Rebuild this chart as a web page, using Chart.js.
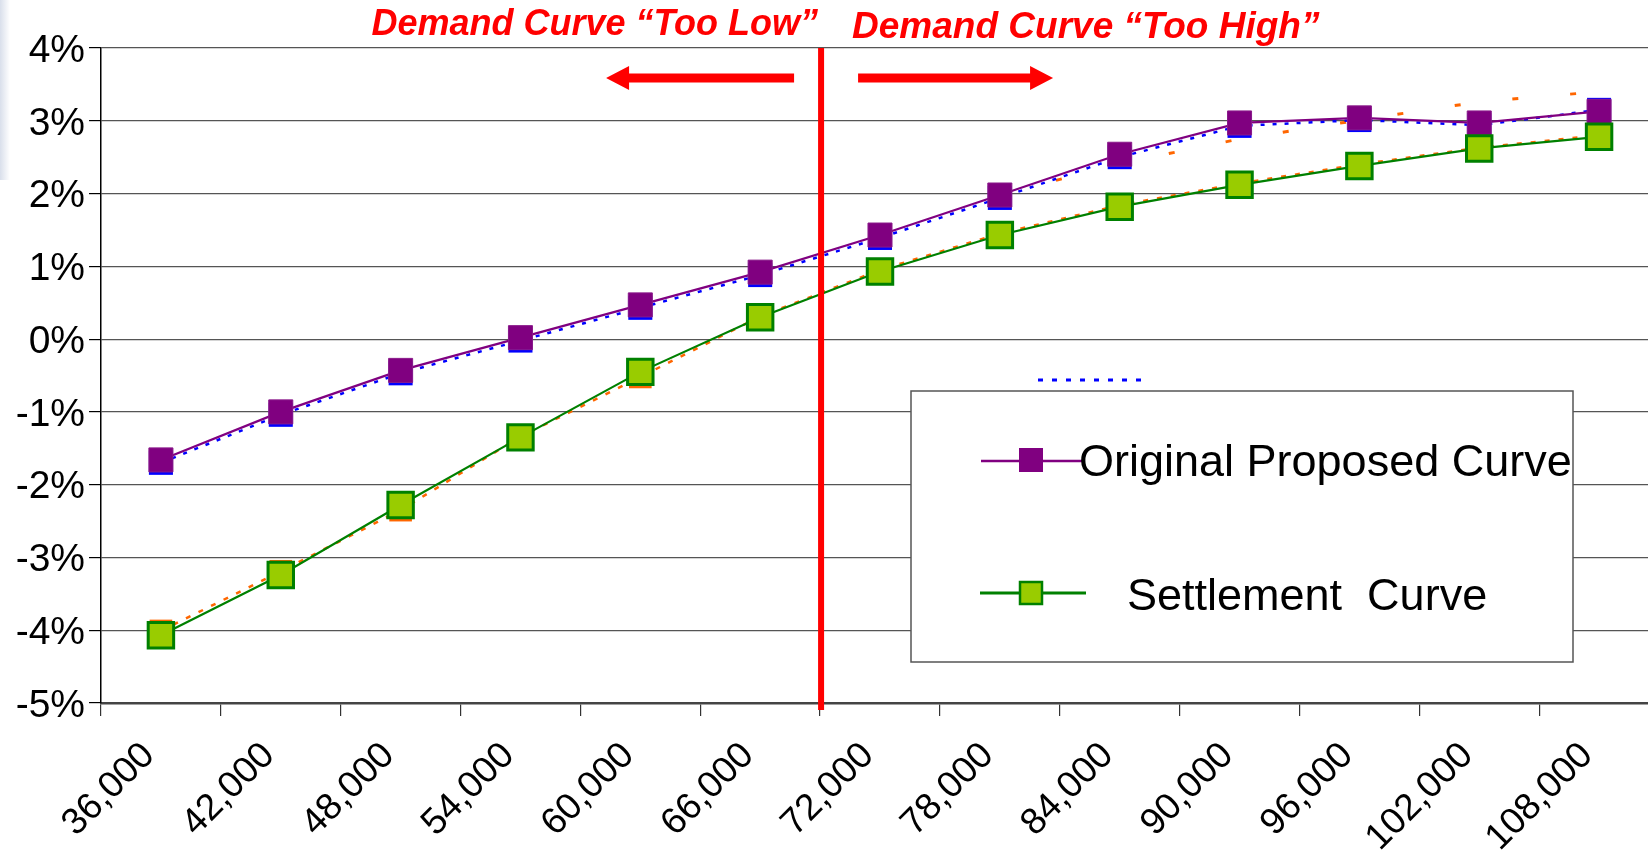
<!DOCTYPE html>
<html lang="en">
<head>
<meta charset="UTF-8">
<title>Demand Curve comparison</title>
<script src="https://cdn.jsdelivr.net/npm/chart.js"></script>
<style>
  html, body { margin: 0; padding: 0; background: #fff; overflow: hidden; }
  body { width: 1648px; height: 850px; position: relative; }
  .edge-shade {
    position: absolute; left: 0; top: 0; width: 10px; height: 180px;
    background: linear-gradient(to right, #d9dfeb, rgba(255,255,255,0));
  }
  .chart-box { position: absolute; left: 0; top: 0; width: 1680px; height: 850px; }
</style>
</head>
<body>
<div class="edge-shade"></div>
<div class="chart-box"><canvas id="demandChart"></canvas></div>

<script>
const categories = ['36,000','42,000','48,000','54,000','60,000','66,000','72,000',
                    '78,000','84,000','90,000','96,000','102,000','108,000'];
// values in percent
const originalCurve    = [-1.66, -1.00, -0.43, 0.02, 0.47, 0.92, 1.43, 1.98, 2.54, 2.97, 3.04, 2.97, 3.13];
const settlementCurve  = [-4.07, -3.24, -2.28, -1.35, -0.45, 0.30, 0.93, 1.43, 1.82, 2.12, 2.38, 2.62, 2.78];
// faint series hiding under the two main ones
const originalShadow   = [-1.70, -1.04, -0.47, -0.02, 0.43, 0.88, 1.39, 1.94, 2.50, 2.93, 3.01, 2.94, 3.15];
const settlementShadow = [-4.01, -3.19, -2.35, -1.34, -0.52, 0.31, 0.95, 1.45, 1.84, 2.14, 2.40, 2.63, 2.80];
const settlementStray  = [null, null, null, null, null, null, null, 1.98, 2.41, 2.75, 3.01, 3.26, 3.40];

const FONT = '"Liberation Sans", Arial, sans-serif';

function drawArrow(ctx, tailX, tipX, y) {
  const dir = tipX > tailX ? 1 : -1;
  const headLen = 23, headHalf = 12, shaftHalf = 4.5;
  const baseX = tipX - dir * headLen;
  ctx.beginPath();
  ctx.moveTo(tailX, y - shaftHalf);
  ctx.lineTo(baseX, y - shaftHalf);
  ctx.lineTo(baseX, y - headHalf);
  ctx.lineTo(tipX, y);
  ctx.lineTo(baseX, y + headHalf);
  ctx.lineTo(baseX, y + shaftHalf);
  ctx.lineTo(tailX, y + shaftHalf);
  ctx.closePath();
  ctx.fill();
}

const demandAnnotations = {
  id: 'demandAnnotations',
  afterDraw(chart) {
    const { ctx, chartArea, scales: { x } } = chart;
    const i = categories.indexOf('66,000');
    const splitX = (x.getPixelForValue(i) + x.getPixelForValue(i + 1)) / 2 + 1;

    ctx.save();
    ctx.fillStyle = '#ff0000';
    ctx.fillRect(splitX - 3, chartArea.top, 6, chartArea.bottom - chartArea.top + 7);
    drawArrow(ctx, splitX - 27, splitX - 215, 78);
    drawArrow(ctx, splitX + 37, splitX + 232, 78);

    ctx.font = 'italic bold 36px ' + FONT;
    ctx.textBaseline = 'middle';
    ctx.textAlign = 'right';
    ctx.fillText('Demand Curve \u201CToo Low\u201D', splitX - 3, 25);
    ctx.textAlign = 'left';
    ctx.font = 'italic bold 37px ' + FONT;
    ctx.fillText('Demand Curve \u201CToo High\u201D', splitX + 31, 28);
    ctx.restore();
  }
};

// legend box drawn by hand, the way the original slide shows it
const boxLegend = {
  id: 'boxLegend',
  afterDraw(chart) {
    const ctx = chart.ctx;
    ctx.save();
    // stray dotted entry peeking above the box
    ctx.strokeStyle = '#0000ff';
    ctx.lineWidth = 3;
    ctx.setLineDash([5, 9]);
    ctx.beginPath(); ctx.moveTo(1038, 380); ctx.lineTo(1145, 380); ctx.stroke();
    ctx.setLineDash([]);

    ctx.fillStyle = '#fff';
    ctx.fillRect(911, 391, 662, 271);
    ctx.strokeStyle = '#555';
    ctx.lineWidth = 1.5;
    ctx.strokeRect(911, 391, 662, 271);

    // original proposed
    ctx.strokeStyle = '#800080';
    ctx.lineWidth = 2.5;
    ctx.beginPath(); ctx.moveTo(981, 461); ctx.lineTo(1085, 461); ctx.stroke();
    ctx.fillStyle = '#800080';
    ctx.fillRect(1019, 448, 24, 24);

    // settlement
    ctx.strokeStyle = '#008000';
    ctx.lineWidth = 3;
    ctx.beginPath(); ctx.moveTo(980, 593); ctx.lineTo(1086, 593); ctx.stroke();
    ctx.fillStyle = '#99cc00';
    ctx.fillRect(1020, 582, 22, 22);
    ctx.lineWidth = 2.5;
    ctx.strokeRect(1020, 582, 22, 22);

    ctx.fillStyle = '#000';
    ctx.font = '45px ' + FONT;
    ctx.textBaseline = 'middle';
    ctx.textAlign = 'left';
    ctx.fillText('Original Proposed Curve', 1079, 464);
    ctx.fillText('Settlement  Curve', 1127, 598);
    ctx.restore();
  }
};

const ctxDemand = document.getElementById('demandChart').getContext('2d');
new Chart(ctxDemand, {
  type: 'line',
  data: {
    labels: categories,
    datasets: [
      {
        label: 'Settlement  Curve', data: settlementCurve,
        borderColor: '#008000', borderWidth: 2.2, tension: 0,
        pointStyle: 'rect', pointRadius: 18, pointHoverRadius: 18,
        pointBackgroundColor: '#99cc00', pointBorderColor: '#008000', pointBorderWidth: 3,
        order: 1
      },
      {
        label: 'Original Proposed Curve', data: originalCurve,
        borderColor: '#800080', borderWidth: 2.2, tension: 0,
        pointStyle: 'rect', pointRadius: 17, pointHoverRadius: 17,
        pointBackgroundColor: '#800080', pointBorderColor: '#8a1a8a', pointBorderWidth: 1,
        order: 2
      },
      {
        data: originalShadow,
        borderColor: '#0000ff', borderWidth: 2.5, borderDash: [4, 8], tension: 0,
        pointStyle: 'rect', pointRadius: 17, pointHoverRadius: 17,
        pointBackgroundColor: '#0000ff', pointBorderWidth: 0,
        order: 3
      },
      {
        data: settlementShadow,
        borderColor: '#ff6600', borderWidth: 2.5, borderDash: [5, 9], tension: 0,
        pointStyle: 'rect', pointRadius: 16, pointHoverRadius: 16,
        pointBackgroundColor: '#ff6600', pointBorderWidth: 0,
        order: 4
      },
      {
        data: settlementStray,
        borderColor: '#ff6600', borderWidth: 3, borderDash: [6, 52], tension: 0,
        pointRadius: 0, spanGaps: false,
        order: 5
      }
    ]
  },
  options: {
    responsive: true,
    maintainAspectRatio: false,
    animation: false,
    layout: { padding: { top: 48, left: 0, right: 0, bottom: 0 } },
    scales: {
      x: {
        type: 'category',
        offset: true,
        grid: { offset: true, drawOnChartArea: false, drawTicks: true, tickLength: 13, color: '#333', lineWidth: 1.2 },
        border: { color: '#444', width: 2.5 },
        ticks: { autoSkip: false, minRotation: 45, maxRotation: 45, color: '#000', padding: 18,
                 labelOffset: -12, font: { family: FONT, size: 37 } },
        afterFit(scale) { scale.height = 147; }
      },
      y: {
        min: -5, max: 4,
        ticks: { stepSize: 1, color: '#000', padding: 4, labelOffset: 3, callback: v => v + '%',
                 font: { family: FONT, size: 39 } },
        grid: { color: '#555', lineWidth: 1.2, tickLength: 12, tickColor: '#000' },
        border: { color: '#000', width: 1.5 },
        afterFit(scale) { scale.width = 101; }
      }
    },
    plugins: {
      legend: { display: false },
      tooltip: { enabled: false }
    }
  },
  plugins: [demandAnnotations, boxLegend]
});
</script>
</body>
</html>
